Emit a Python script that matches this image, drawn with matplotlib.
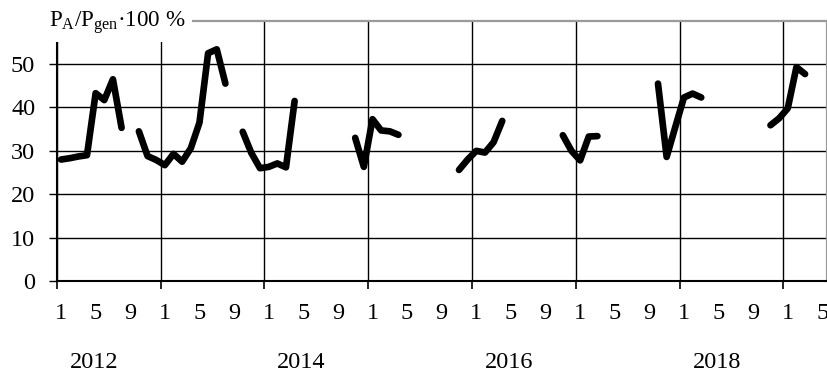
import numpy as np
import matplotlib
matplotlib.use("Agg")
import matplotlib.pyplot as plt
import matplotlib.transforms as mtransforms
from matplotlib.patches import Rectangle

plt.rcParams['font.family'] = ['Liberation Serif', 'DejaVu Serif']
plt.rcParams['mathtext.fontset'] = 'custom'
plt.rcParams['mathtext.rm'] = 'Liberation Serif'
plt.rcParams['mathtext.it'] = 'Liberation Serif:italic'

# monthly values (Jan..Dec), None = no data
y2012 = [28.0, 28.3, 28.7, 29.0, 43.3, 41.7, 46.5, 35.3, None, 34.5, 28.8, 27.9]
y2013 = [26.7, 29.3, 27.5, 30.6, 36.5, 52.5, 53.4, 45.5, None, 34.4, 29.5, 26.0]
y2014 = [26.3, 27.1, 26.2, 41.5, None, None, None, None, None, None, 33.0, 26.3]
y2015 = [37.3, 34.7, 34.5, 33.7, None, None, None, None, None, None, 25.6, 28.0]
y2016 = [30.0, 29.6, 32.0, 36.9, None, None, None, None, None, None, 33.6, 30.0]
y2017 = [27.8, 33.3, 33.4, None, None, None, None, None, None, 45.5, 28.6, 35.5]
y2018 = [42.3, 43.2, 42.3, None, None, None, None, None, None, None, 35.9, 37.5]
y2019 = [39.8, 49.3, 47.7, None, None]

month_labels = ['1', '5', '9']
year_labels = ['2012', '2014', '2016', '2018']
y_ticks = [0, 10, 20, 30, 40, 50]

values = np.array([np.nan if v is None else v for v in
                   y2012 + y2013 + y2014 + y2015 + y2016 + y2017 + y2018 + y2019],
                  dtype=float)
n = len(values)
x = np.arange(n) + 0.5

W, H = 828, 372
fig = plt.figure(figsize=(W / 100, H / 100), dpi=100)
L, R, T, B = 56.7, 826.7, 20.7, 281.0
ax = fig.add_axes([L / W, 1 - B / H, (R - L) / W, (B - T) / H])

ax.plot(x, values, color='black', lw=4.8, solid_capstyle='round',
        solid_joinstyle='round', zorder=3, clip_on=False)

ax.set_xlim(0, n)
ax.set_ylim(0, 60)

# y axis
ax.set_yticks(y_ticks)
ax.set_yticklabels([str(v) for v in y_ticks])
ax.tick_params(axis='y', which='major', direction='out', length=5.5, width=1.0,
               color='black', labelsize=17.5, pad=10)

# x axis: major ticks at year boundaries, minor ticks for month labels
ax.set_xticks(np.arange(0, n, 12))
ax.set_xticklabels([])
minor_pos = np.arange(0.5, n, 4)
ax.set_xticks(minor_pos, minor=True)
ax.set_xticklabels([month_labels[i % 3] for i in range(len(minor_pos))], minor=True)
ax.tick_params(axis='x', which='major', direction='out', length=6, width=1.2,
               color='black')
ax.tick_params(axis='x', which='minor', length=0, labelsize=17.5, pad=15.5)

ax.grid(True, which='major', axis='both', color='black', lw=1.0)
ax.set_axisbelow(True)

for s in ['left', 'bottom']:
    ax.spines[s].set_color('black')
    ax.spines[s].set_linewidth(1.5)
for s in ['top', 'right']:
    ax.spines[s].set_color('#9a9a9a')
    ax.spines[s].set_linewidth(1.6)

trans = mtransforms.blended_transform_factory(ax.transData, ax.transAxes)
for i, lab in enumerate(year_labels):
    ax.text(24 * i + 4.3, -0.314, lab, transform=trans, ha='center', va='center',
            fontsize=17.5)

# title box covering the top-left corner
fig.patches.append(Rectangle((0, 1 - 41.7 / H), 192 / W, 41.7 / H,
                             transform=fig.transFigure, facecolor='white',
                             edgecolor='none', zorder=5))
fig.text(49 / W, 1 - 26.7 / H, r'P$_\mathrm{A}$/P$_\mathrm{gen}$·100 %',
         fontsize=16.6, ha='left', va='baseline', zorder=6)

fig.savefig('out.png', dpi=100, facecolor='white')
